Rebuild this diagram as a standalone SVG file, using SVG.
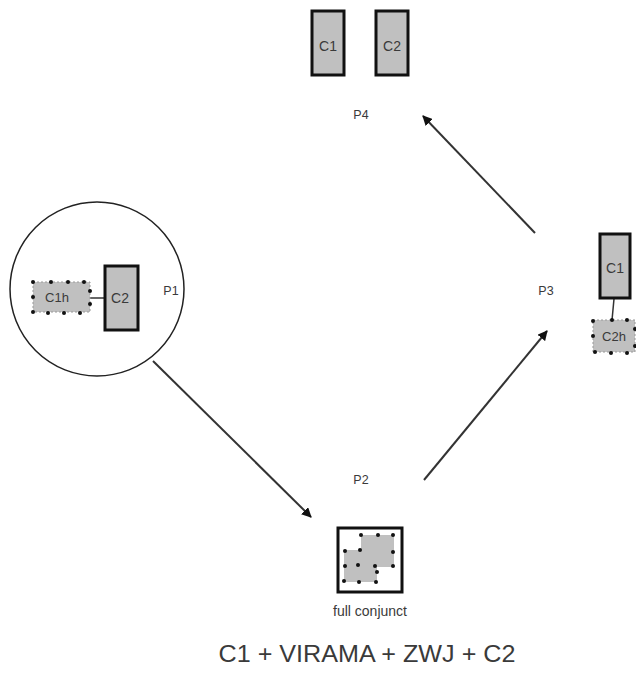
<svg xmlns="http://www.w3.org/2000/svg" width="636" height="673" viewBox="0 0 636 673">
<defs>
<style>
text{font-family:"Liberation Sans",Arial,sans-serif;fill:#3a3a3a}
.lbl{font-size:12.5px}
.bl{font-size:14px}
.hl{font-size:13px}
.box{fill:#c0c0c0;stroke:#111;stroke-width:3}
.half{fill:#c0c0c0;stroke:#999;stroke-width:1;stroke-dasharray:2 2}
.dot{fill:#111}
.conn{stroke:#333;stroke-width:2;fill:none}
.thin{stroke:#333;stroke-width:1.5;fill:none}
</style>
<marker id="ah" viewBox="0 0 10 10" refX="9" refY="5" markerWidth="10" markerHeight="10" markerUnits="userSpaceOnUse" orient="auto">
<path d="M0,0 L10,5 L0,10 z" fill="#111"/>
</marker>
</defs>
<rect width="636" height="673" fill="#fff"/>

<g id="connectors">
<line class="conn" x1="153" y1="361" x2="311" y2="517" marker-end="url(#ah)"/>
<line class="conn" x1="424" y1="480" x2="547" y2="331" marker-end="url(#ah)"/>
<line class="conn" x1="535" y1="233" x2="423" y2="116" marker-end="url(#ah)"/>
</g>

<g id="P1">
<circle cx="97" cy="289" r="87" fill="none" stroke="#222" stroke-width="1.5"/>
<line class="thin" x1="90" y1="298" x2="104" y2="298"/>
<rect class="half" x="33" y="282" width="57" height="30"/>
<g class="dot">
<circle cx="33" cy="282" r="2"/><circle cx="51" cy="282" r="2"/><circle cx="68" cy="282" r="2"/><circle cx="84" cy="282" r="2"/>
<circle cx="90" cy="291" r="2"/><circle cx="90" cy="304" r="2"/>
<circle cx="33" cy="297" r="2"/>
<circle cx="33" cy="312" r="2"/><circle cx="48" cy="313" r="2"/><circle cx="64" cy="313" r="2"/><circle cx="80" cy="313" r="2"/>
</g>
<text class="hl" x="57" y="302" text-anchor="middle">C1h</text>
<rect class="box" x="105" y="266" width="33" height="64"/>
<text class="bl" x="120" y="303" text-anchor="middle">C2</text>
<text class="lbl" x="171" y="295" text-anchor="middle">P1</text>
</g>

<g id="P2">
<text class="lbl" x="361" y="484" text-anchor="middle">P2</text>
<rect x="338" y="528" width="64" height="64" fill="#fff" stroke="#111" stroke-width="3"/>
<rect x="361" y="535" width="33" height="32" fill="#c0c0c0"/>
<rect x="344" y="550" width="33" height="32" fill="#c0c0c0"/>
<g class="dot">
<circle cx="361" cy="535" r="2"/><circle cx="378" cy="535" r="2"/><circle cx="393" cy="535" r="2"/>
<circle cx="393" cy="552" r="2"/><circle cx="393" cy="566" r="2"/><circle cx="375" cy="566" r="2"/>
<circle cx="360" cy="550" r="2"/>
<circle cx="345" cy="551" r="2"/><circle cx="358" cy="565" r="2"/><circle cx="345" cy="566" r="2"/>
<circle cx="377" cy="572" r="2"/>
<circle cx="344" cy="581" r="2"/><circle cx="359" cy="582" r="2"/><circle cx="376" cy="582" r="2"/>
</g>
<text x="370" y="616" text-anchor="middle" style="font-size:14px">full conjunct</text>
</g>

<g id="P3">
<text class="lbl" x="546" y="295" text-anchor="middle">P3</text>
<line class="thin" x1="614" y1="299" x2="612" y2="320"/>
<rect class="box" x="600" y="234" width="30" height="64"/>
<text class="bl" x="615" y="273" text-anchor="middle">C1</text>
<rect class="half" x="593" y="320" width="42" height="32"/>
<g class="dot">
<circle cx="593" cy="321" r="2"/><circle cx="612" cy="320" r="2"/><circle cx="627" cy="320" r="2"/>
<circle cx="593" cy="336" r="2"/><circle cx="635" cy="329" r="2"/><circle cx="635" cy="346" r="2"/>
<circle cx="595" cy="352" r="2"/><circle cx="611" cy="353" r="2"/><circle cx="627" cy="353" r="2"/>
</g>
<text class="hl" x="614" y="341" text-anchor="middle">C2h</text>
</g>

<g id="P4">
<rect class="box" x="312" y="11" width="32" height="64"/>
<text class="bl" x="328" y="51" text-anchor="middle">C1</text>
<rect class="box" x="376" y="11" width="32" height="64"/>
<text class="bl" x="392" y="51" text-anchor="middle">C2</text>
<text class="lbl" x="361" y="119" text-anchor="middle">P4</text>
</g>

<g id="caption">
<text x="367" y="662" text-anchor="middle" style="font-size:24px" textLength="297" lengthAdjust="spacingAndGlyphs">C1 + VIRAMA + ZWJ + C2</text>
</g>
</svg>
